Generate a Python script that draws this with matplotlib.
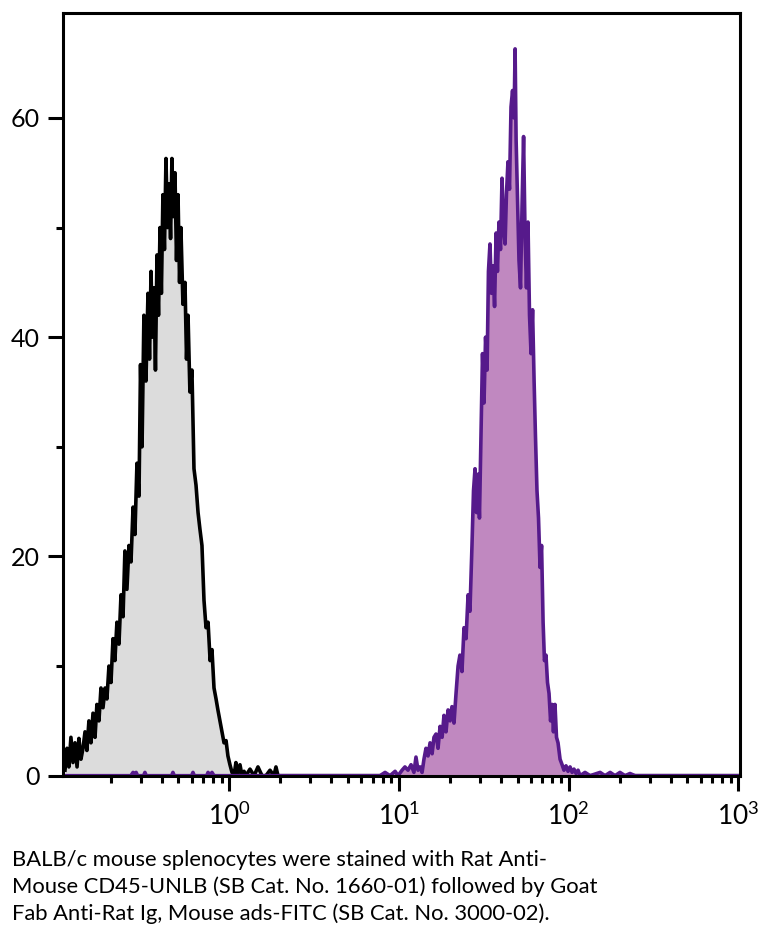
import numpy as np
import matplotlib
matplotlib.use("Agg")
import matplotlib.pyplot as plt
from matplotlib.ticker import LogLocator, LogFormatterSciNotation, FixedLocator

plt.rcParams['font.family'] = ['Lato', 'DejaVu Sans']
plt.rcParams['mathtext.fontset'] = 'custom'
plt.rcParams['mathtext.rm'] = 'Lato'
plt.rcParams['mathtext.it'] = 'Lato:italic'
plt.rcParams['mathtext.bf'] = 'Lato:bold'

# unstained control (gray), log10 of intensity and event counts
gray_log = [-0.968, -0.956, -0.945, -0.933, -0.921, -0.909, -0.897, -0.886, -0.874, -0.862,
            -0.850, -0.839, -0.827, -0.815, -0.803, -0.791, -0.780, -0.768, -0.756, -0.744,
            -0.732, -0.721, -0.709, -0.697, -0.685, -0.674, -0.662, -0.650, -0.638, -0.626,
            -0.615, -0.603, -0.591, -0.579, -0.567, -0.556, -0.544, -0.532, -0.523, -0.514,
            -0.503, -0.491, -0.479, -0.470, -0.461, -0.453, -0.444, -0.435, -0.426, -0.417,
            -0.408, -0.400, -0.391, -0.382, -0.373, -0.364, -0.355, -0.346, -0.338, -0.329,
            -0.320, -0.311, -0.302, -0.293, -0.285, -0.273, -0.261, -0.252, -0.243, -0.232,
            -0.220, -0.208, -0.196, -0.184, -0.173, -0.161, -0.149, -0.137, -0.125, -0.113,
            -0.102, -0.090, -0.078, -0.067, -0.055, -0.043, -0.031, -0.019, -0.008, 0.004,
            0.016, 0.028, 0.039, 0.051, 0.063, 0.075, 0.087, 0.098, 0.122, 0.146,
            0.169, 0.193, 0.216, 0.240, 0.263, 0.275, 0.287, 0.311, 1.0, 2.0, 3.0]
gray_counts = [0.5, 2.5, 0.8, 3.5, 1.2, 3.0, 0.8, 3.4, 1.5, 2.5,
               4.0, 2.3, 5.0, 3.0, 5.7, 3.5, 6.5, 5.0, 8.0, 6.2,
               8.0, 7.0, 10.0, 8.5, 12.5, 10.5, 14.0, 12.0, 16.5, 14.5,
               20.5, 17.0, 21.0, 19.5, 24.5, 22.0, 28.5, 25.5, 37.5, 30.0,
               42.0, 36.0, 44.0, 38.0, 46.0, 40.0, 44.5, 37.0, 47.5, 42.0,
               50.0, 44.0, 53.0, 48.0, 56.3, 50.0, 54.0, 49.0, 56.3, 51.0,
               55.0, 47.0, 53.0, 45.0, 50.0, 43.0, 45.0, 38.0, 42.0, 35.0,
               37.0, 28.0, 26.5, 24.0, 22.5, 21.0, 16.0, 13.5, 14.0, 10.5,
               11.5, 8.0, 7.0, 6.0, 5.0, 4.0, 3.0, 3.2, 1.8, 1.0,
               0.3, 0.0, 1.2, 0.2, 1.0, 0.0, 0.4, 0.0, 0.6, 0.0,
               0.8, 0.0, 0.0, 0.5, 0.0, 0.8, 0.0, 0.0, 0.0, 0.0, 0.0]

# CD45 stained cells (purple)
purple_log = [-0.968, -0.580, -0.567, -0.558, -0.549, -0.540, -0.505, -0.497, -0.489, -0.340,
              -0.332, -0.324, -0.222, -0.214, -0.206, -0.133, -0.125, -0.114, -0.102, -0.090,
              0.888, 0.918, 0.947, 0.977, 0.994, 1.018, 1.035, 1.053, 1.071, 1.088,
              1.100, 1.112, 1.124, 1.136, 1.147, 1.159, 1.171, 1.183, 1.195, 1.206,
              1.218, 1.230, 1.242, 1.254, 1.265, 1.277, 1.289, 1.301, 1.312, 1.324,
              1.336, 1.348, 1.359, 1.371, 1.383, 1.395, 1.407, 1.418, 1.430, 1.439,
              1.448, 1.457, 1.466, 1.474, 1.483, 1.492, 1.501, 1.510, 1.519, 1.527,
              1.536, 1.545, 1.554, 1.563, 1.572, 1.580, 1.589, 1.598, 1.607, 1.616,
              1.625, 1.633, 1.642, 1.651, 1.660, 1.669, 1.678, 1.684, 1.690, 1.698,
              1.707, 1.716, 1.725, 1.734, 1.743, 1.751, 1.760, 1.769, 1.778, 1.787,
              1.796, 1.804, 1.813, 1.822, 1.831, 1.840, 1.849, 1.857, 1.866, 1.875,
              1.884, 1.893, 1.902, 1.910, 1.919, 1.928, 1.937, 1.949, 1.961, 1.972,
              1.984, 1.996, 2.008, 2.020, 2.031, 2.043, 2.055, 2.067, 2.096, 2.126,
              2.185, 2.214, 2.244, 2.273, 2.302, 2.332, 2.361, 2.391, 3.0]
purple_counts = [0.0, 0.0, 0.3, 0.0, 0.3, 0.0, 0.0, 0.3, 0.0, 0.0,
                 0.3, 0.0, 0.0, 0.3, 0.0, 0.0, 0.3, 0.0, 0.3, 0.0,
                 0.0, 0.3, 0.0, 0.4, 0.0, 0.5, 0.8, 0.5, 1.0, 0.3,
                 1.7, 0.5, 0.8, 0.3, 1.5, 2.5, 1.8, 3.0, 2.0, 3.5,
                 3.8, 2.5, 4.5, 3.5, 5.5, 4.0, 6.0, 5.0, 6.3, 4.8,
                 7.5, 10.0, 11.0, 9.5, 13.5, 12.5, 16.5, 15.0, 21.0, 26.0,
                 28.0, 24.0, 27.5, 23.5, 31.0, 38.5, 34.0, 40.0, 37.0, 46.0,
                 48.5, 44.0, 46.5, 42.8, 49.5, 46.0, 50.5, 48.0, 54.5, 50.0,
                 48.5, 53.0, 56.0, 53.5, 61.0, 62.5, 60.0, 66.3, 58.0, 53.0,
                 47.0, 44.5, 52.0, 58.3, 49.0, 44.5, 50.5, 42.0, 38.5, 42.5,
                 36.0, 31.0, 26.0, 23.5, 19.0, 21.0, 14.0, 10.5, 11.0, 8.5,
                 7.5, 5.0, 6.5, 4.0, 6.5, 3.5, 3.0, 1.5, 1.0, 0.5,
                 0.9, 0.4, 0.8, 0.3, 0.6, 0.2, 0.5, 0.0, 0.3, 0.0,
                 0.3, 0.0, 0.3, 0.0, 0.3, 0.0, 0.2, 0.0, 0.0]

y_major = [0, 20, 40, 60]
y_minor = [10, 30, 50]

caption = ("BALB/c mouse splenocytes were stained with Rat Anti-\n"
           "Mouse CD45-UNLB (SB Cat. No. 1660-01) followed by Goat\n"
           "Fab Anti-Rat Ig, Mouse ads-FITC (SB Cat. No. 3000-02).")

gray_x = 10 ** np.array(gray_log)
purple_x = 10 ** np.array(purple_log)

fig = plt.figure(figsize=(7.7, 9.4), dpi=100)
ax = fig.add_axes([0.0822, 0.1748, 0.8788, 0.8117])

ax.fill_between(gray_x, gray_counts, color='#dcdcdc', lw=0, zorder=1)
ax.plot(gray_x, gray_counts, color='black', lw=2.6, zorder=2)
ax.fill_between(purple_x, purple_counts, color='#c088c0', lw=0, zorder=3)
ax.plot(purple_x, purple_counts, color='#561a8b', lw=2.6, zorder=4)

ax.set_xscale('log')
ax.set_xlim(10 ** -0.978, 10 ** 3.009)
ax.set_ylim(0, 69.6)

ax.xaxis.set_major_locator(LogLocator(base=10, numticks=10))
ax.xaxis.set_minor_locator(LogLocator(base=10, subs=np.arange(2, 10), numticks=20))
ax.xaxis.set_major_formatter(LogFormatterSciNotation())
ax.yaxis.set_major_locator(FixedLocator(y_major))
ax.yaxis.set_minor_locator(FixedLocator(y_minor))

for s in ax.spines.values():
    s.set_linewidth(2.2)
    s.set_zorder(5)

ax.tick_params(which='major', length=11, width=2.2, labelsize=18, pad=6)
ax.tick_params(which='minor', length=5, width=2.2)
ax.tick_params(axis='x', which='major', labelsize=19, pad=8)

fig.text(0.0156, 0.0955, caption, fontsize=15.8, va='top', ha='left',
         linespacing=1.38)

fig.savefig('out.png', dpi=100)
